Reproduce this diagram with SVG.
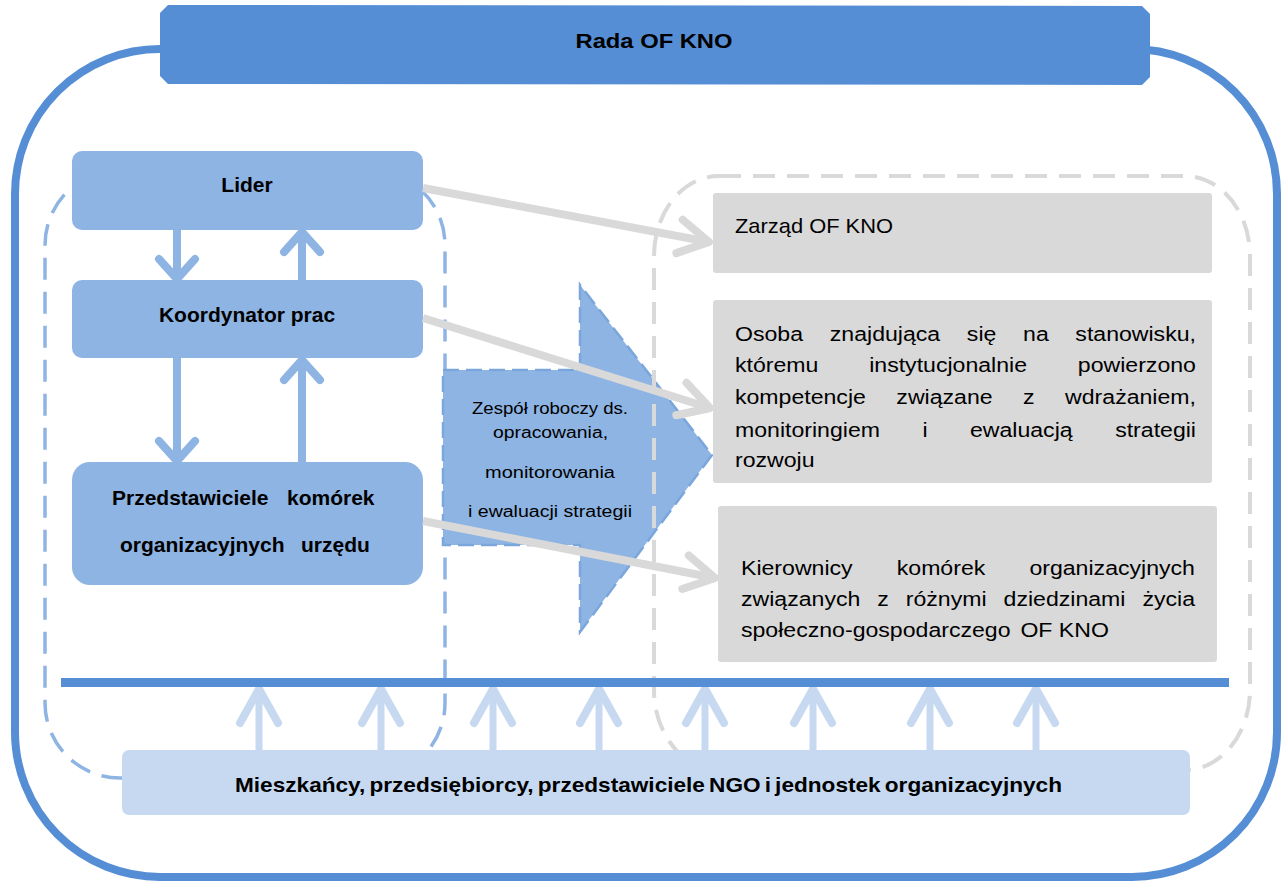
<svg xmlns="http://www.w3.org/2000/svg" width="1288" height="884" viewBox="0 0 1288 884">
<style>
text { font-family: "Liberation Sans", Arial, sans-serif; fill: #000; }
.b { font-weight: bold; font-size: 21px; }
.r { font-size: 21px; }
.z { font-size: 16px; }
.blue { fill: #8eb4e3; }
.gray { fill: #d9d9d9; }
.light { fill: #c6d9f1; }
.cg { stroke: #d9d9d9; stroke-width: 8; fill: none; marker-end: url(#mg); }
.cb { stroke: #8eb4e3; stroke-width: 8; fill: none; marker-end: url(#mb); }
.cl { stroke: #c6d9f1; stroke-width: 7; fill: none; marker-end: url(#ml); }
</style>
<defs>
<marker id="mg" markerUnits="userSpaceOnUse" viewBox="-45 -30 55 60" markerWidth="55" markerHeight="60" refX="0" refY="0" orient="auto">
<path d="M-30,-17 L0,0 L-30,17" fill="none" stroke="#d9d9d9" stroke-width="8" stroke-linecap="round" stroke-linejoin="round"/>
</marker>
<marker id="mb" markerUnits="userSpaceOnUse" viewBox="-35 -30 45 60" markerWidth="45" markerHeight="60" refX="0" refY="0" orient="auto">
<path d="M-20,-18 L0,0 L-20,18" fill="none" stroke="#8eb4e3" stroke-width="8" stroke-linecap="round" stroke-linejoin="round"/>
</marker>
<marker id="ml" markerUnits="userSpaceOnUse" viewBox="-50 -30 60 60" markerWidth="60" markerHeight="60" refX="0" refY="0" orient="auto">
<path d="M-34,-19 L0,0 L-34,19" fill="none" stroke="#c6d9f1" stroke-width="8" stroke-linecap="round" stroke-linejoin="round"/>
</marker>
</defs>

<rect width="1288" height="884" fill="#ffffff"/>

<!-- outer frame -->
<rect x="15" y="49" width="1262" height="828" rx="145" ry="145" fill="none" stroke="#558ed5" stroke-width="8"/>

<!-- dashed groupings -->
<rect x="45" y="170" width="400" height="608" rx="75" ry="75" fill="none" stroke="#8eb4e3" stroke-width="3.5" stroke-dasharray="22 12"/>

<g id="zespol">
<polygon points="443,370 580,370 580,285 712,455 580,632 580,545 443,545" fill="#8eb4e3" stroke="#7ba6dc" stroke-width="2.5" stroke-dasharray="16 7"/>
<text class="z" text-anchor="middle" x="550" y="414" textLength="156" lengthAdjust="spacingAndGlyphs">Zespół roboczy ds.</text>
<text class="z" text-anchor="middle" x="550.5" y="438" textLength="115" lengthAdjust="spacingAndGlyphs">opracowania,</text>
<text class="z" text-anchor="middle" x="550" y="478" textLength="130" lengthAdjust="spacingAndGlyphs">monitorowania</text>
<text class="z" text-anchor="middle" x="550" y="517" textLength="164" lengthAdjust="spacingAndGlyphs">i ewaluacji strategii</text>
</g>

<rect x="654" y="176" width="596" height="594" rx="65" ry="80" fill="none" stroke="#d9d9d9" stroke-width="4" stroke-dasharray="22 12"/>

<!-- header -->
<g id="rada">
<polygon points="168,5 1142,6 1150,14 1150,77 1142,85 168,84 160,76 160,13" fill="#558ed5"/>
<text class="b" text-anchor="middle" x="654" y="48" font-size="22" textLength="157" lengthAdjust="spacingAndGlyphs">Rada OF KNO</text>
</g>

<!-- left column -->
<g id="lider">
<rect class="blue" x="72" y="151" width="351" height="79" rx="10" ry="10"/>
<text class="b" text-anchor="middle" x="247" y="192">Lider</text>
</g>
<g id="koordynator">
<rect class="blue" x="72" y="280" width="351" height="78" rx="10" ry="10"/>
<text class="b" text-anchor="middle" x="247" y="322">Koordynator prac</text>
</g>
<g id="przedstawiciele">
<rect class="blue" x="72" y="462" width="351" height="123" rx="18" ry="18"/>
<text class="b" y="505"><tspan x="112">Przedstawiciele </tspan><tspan x="287">komórek</tspan></text>
<text class="b" y="552"><tspan x="120">organizacyjnych </tspan><tspan x="301">urzędu</tspan></text>
</g>

<!-- right column -->
<g id="zarzad">
<rect class="gray" x="713" y="193" width="499" height="80" rx="3" ry="3"/>
<text class="r" x="735" y="233" textLength="158" lengthAdjust="spacingAndGlyphs">Zarząd OF KNO</text>
</g>
<g id="osoba">
<rect class="gray" x="713" y="300" width="499" height="183" rx="3" ry="3"/>
<g transform="translate(735,0) scale(1.1,1) translate(-735,0)">
<text class="r" y="341"><tspan x="735">Osoba </tspan><tspan x="821.2">znajdująca </tspan><tspan x="945.8">się </tspan><tspan x="996.9">na </tspan><tspan x="1044.4">stanowisku,</tspan></text>
<text class="r" y="372"><tspan x="735">któremu </tspan><tspan x="857">instytucjonalnie </tspan><tspan x="1046.7">powierzono</tspan></text>
<text class="r" y="404"><tspan x="735">kompetencje </tspan><tspan x="881.7">związane </tspan><tspan x="996.9">z </tspan><tspan x="1035.1">wdrażaniem,</tspan></text>
<text class="r" y="437"><tspan x="735">monitoringiem </tspan><tspan x="905.4">i </tspan><tspan x="948.6">ewaluacją </tspan><tspan x="1080.6">strategii</tspan></text>
<text class="r" x="735" y="467">rozwoju</text>
</g>
</g>
<g id="kierownicy">
<rect class="gray" x="718" y="506" width="499" height="156" rx="3" ry="3"/>
<g transform="translate(741,0) scale(1.1,1) translate(-741,0)">
<text class="r" y="575"><tspan x="741">Kierownicy </tspan><tspan x="882.6">komórek </tspan><tspan x="1003.2">organizacyjnych</tspan></text>
<text class="r" y="606"><tspan x="741">związanych </tspan><tspan x="864.9">z </tspan><tspan x="890.8">różnymi </tspan><tspan x="979.7">dziedzinami </tspan><tspan x="1106">życia</tspan></text>
<text class="r" y="637"><tspan x="741">społeczno-gospodarczego </tspan><tspan x="995">OF KNO</tspan></text>
</g>
</g>

<!-- connectors -->
<g id="connectors">
<path class="cb" d="M177,230 L177,279"/>
<path class="cb" d="M177,358 L177,461"/>
<path class="cb" d="M302,280 L302,232"/>
<path class="cb" d="M302,462 L302,360"/>
<path class="cg" d="M423,188 L709,242"/>
<path class="cg" d="M423,318 L710,408"/>
<path class="cg" d="M423,521 L715,578"/>
<path class="cl" d="M259,750 L259,689"/>
<path class="cl" d="M381,750 L381,689"/>
<path class="cl" d="M493,750 L493,689"/>
<path class="cl" d="M599,750 L599,689"/>
<path class="cl" d="M705,750 L705,689"/>
<path class="cl" d="M813,750 L813,689"/>
<path class="cl" d="M930,750 L930,689"/>
<path class="cl" d="M1036,750 L1036,689"/>
<rect x="61" y="678" width="1168" height="9" fill="#558ed5"/>
</g>

<!-- bottom node -->
<g id="mieszkancy">
<rect class="light" x="122" y="750" width="1068" height="65" rx="7" ry="7"/>
<text class="b" text-anchor="middle" x="648.5" y="792" font-size="22.5" word-spacing="-2" textLength="827" lengthAdjust="spacingAndGlyphs">Mieszkańcy, przedsiębiorcy, przedstawiciele NGO i jednostek organizacyjnych</text>
</g>
</svg>
